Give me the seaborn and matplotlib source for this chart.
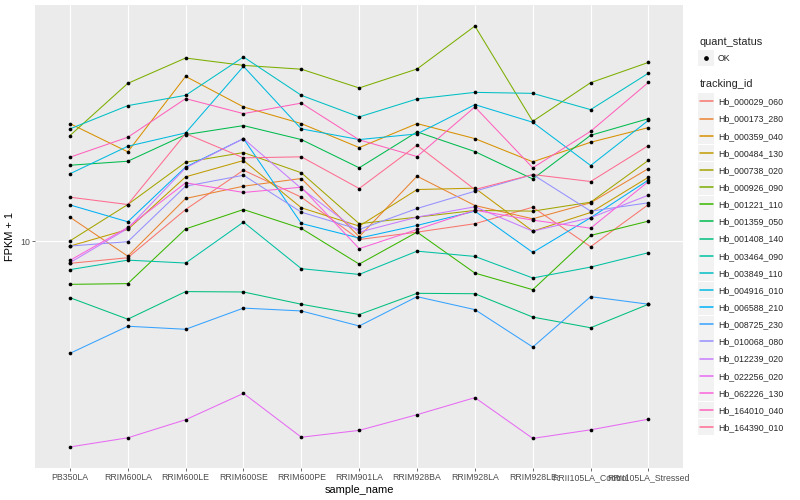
import pandas as pd
import seaborn as sns
import matplotlib.pyplot as plt
from matplotlib.lines import Line2D
from matplotlib.patches import Rectangle
from matplotlib.legend_handler import HandlerLine2D
from matplotlib.ticker import NullLocator

# samples along the x axis
samples = ["PB350LA", "RRIM600LA", "RRIM600LE", "RRIM600SE", "RRIM600PE", "RRIM901LA",
           "RRIM928BA", "RRIM928LA", "RRIM928LE", "RRII105LA_Control", "RRII105LA_Stressed"]

tracking_ids = ["Hb_000029_060", "Hb_000173_280", "Hb_000359_040", "Hb_000484_130",
                "Hb_000738_020", "Hb_000926_090", "Hb_001221_110", "Hb_001359_050",
                "Hb_001408_140", "Hb_003464_090", "Hb_003849_110", "Hb_004916_010",
                "Hb_006588_210", "Hb_008725_230", "Hb_010068_080", "Hb_012239_020",
                "Hb_022256_020", "Hb_062226_130", "Hb_164010_040", "Hb_164390_010"]

# ggplot default hue palette for 20 levels
palette = ["#F8766D", "#EA8331", "#D89000", "#C09B00", "#A3A500", "#7CAE00", "#39B600",
           "#00BB4E", "#00BF7D", "#00C1A3", "#00BFC4", "#00BAE0", "#00B0F6", "#35A2FF",
           "#9590FF", "#C77CFF", "#E76BF3", "#FA62DB", "#FF62BC", "#FF6C91"]

# FPKM + 1 per gene, one value per sample
hb_000029_060 = [8.45, 8.82, 12.78, 17.29, 14.05, 10.15, 10.74, 11.46, 13.01, 9.60, 13.28]
hb_000173_280 = [12.05, 8.93, 13.91, 15.29, 16.22, 10.37, 16.51, 13.18, 11.90, 13.46, 17.51]
hb_000359_040 = [24.74, 19.91, 35.56, 28.12, 24.74, 20.57, 24.74, 22.04, 18.44, 21.43, 23.99]
hb_000484_130 = [9.65, 10.96, 16.43, 18.62, 12.95, 11.25, 14.90, 15.06, 10.82, 12.49, 16.38]
hb_000738_020 = [10.04, 13.28, 18.38, 19.80, 16.95, 11.46, 12.05, 12.69, 12.62, 13.52, 18.66]
hb_000926_090 = [22.56, 33.70, 40.95, 38.70, 37.58, 32.53, 37.64, 52.36, 25.18, 33.88, 39.60]
hb_001221_110 = [7.19, 7.23, 11.01, 12.78, 11.05, 8.40, 10.74, 7.84, 6.90, 10.47, 11.69]
hb_001359_050 = [17.96, 18.52, 22.73, 24.36, 21.88, 17.61, 23.21, 19.95, 16.16, 22.61, 25.70]
hb_001408_140 = [6.49, 5.50, 6.80, 6.78, 6.17, 5.70, 6.71, 6.69, 5.59, 5.15, 6.17]
hb_003464_090 = [8.05, 8.66, 8.47, 11.60, 8.11, 7.76, 9.28, 8.91, 7.55, 8.21, 9.17]
hb_003849_110 = [23.75, 28.40, 30.74, 41.28, 30.74, 26.04, 29.90, 31.45, 31.21, 27.54, 36.45]
hb_004916_010 = [16.82, 20.78, 23.03, 38.40, 23.75, 21.88, 22.85, 28.62, 24.99, 17.92, 25.37]
hb_006588_210 = [13.24, 11.63, 17.71, 22.04, 11.48, 10.26, 11.31, 12.62, 9.19, 12.00, 16.03]
hb_008725_230 = [4.23, 5.21, 5.09, 5.99, 5.86, 5.22, 6.54, 5.92, 4.44, 6.54, 6.17]
hb_010068_080 = [9.65, 9.98, 15.29, 16.63, 12.52, 10.96, 12.88, 14.71, 16.72, 12.62, 13.46]
hb_012239_020 = [8.49, 11.05, 17.61, 22.04, 15.02, 10.74, 12.05, 13.05, 10.82, 12.00, 14.27]
hb_022256_020 = [2.06, 2.21, 2.54, 3.11, 2.22, 2.34, 2.64, 3.01, 2.20, 2.35, 2.55]
hb_062226_130 = [8.64, 11.14, 15.69, 14.57, 15.17, 9.46, 10.96, 12.71, 11.78, 11.07, 15.85]
hb_164010_040 = [19.10, 22.27, 29.97, 26.71, 28.96, 21.83, 19.20, 28.12, 17.61, 23.32, 33.96]
hb_164390_010 = [14.05, 13.28, 22.91, 19.01, 19.16, 15.02, 20.94, 14.90, 16.72, 15.85, 20.89]

series = [hb_000029_060, hb_000173_280, hb_000359_040, hb_000484_130, hb_000738_020,
          hb_000926_090, hb_001221_110, hb_001359_050, hb_001408_140, hb_003464_090,
          hb_003849_110, hb_004916_010, hb_006588_210, hb_008725_230, hb_010068_080,
          hb_012239_020, hb_022256_020, hb_062226_130, hb_164010_040, hb_164390_010]

rows = []
for tid, vals in zip(tracking_ids, series):
    for s, v in zip(samples, vals):
        rows.append({"tracking_id": tid, "sample_name": s, "fpkm": v, "quant_status": "OK"})
df = pd.DataFrame(rows)

sns.set_theme(style="darkgrid", rc={"axes.facecolor": "#EBEBEB", "grid.color": "white",
                                    "axes.edgecolor": "#EBEBEB"})
plt.rcParams["font.family"] = ["Liberation Sans", "DejaVu Sans"]

fig = plt.figure(figsize=(8, 5), dpi=100)
ax = fig.add_axes([0.044, 0.064, 0.81, 0.926])

sns.lineplot(data=df, x="sample_name", y="fpkm", hue="tracking_id", hue_order=tracking_ids,
             palette=palette, estimator=None, sort=False, linewidth=0.75, ax=ax, legend=False)
sns.scatterplot(data=df, x="sample_name", y="fpkm", color="black", s=7, linewidth=0,
                ax=ax, legend=False, zorder=3)

ax.set_yscale("log")
ax.margins(y=0.05)
ax.set_xlim(-0.6, len(samples) - 0.4)
ax.set_yticks([10])
ax.set_yticklabels(["10"])
ax.yaxis.set_minor_locator(NullLocator())
ax.grid(True, which="major", color="white", linewidth=0.8)
for sp in ax.spines.values():
    sp.set_visible(False)
ax.tick_params(axis="both", which="major", length=2.2, width=0.5, color="#333333",
               labelsize=6.3, labelcolor="#4D4D4D", pad=1.5, bottom=True, left=True)
ax.set_xlabel("sample_name", fontsize=7.9, color="black", labelpad=2)
ax.set_ylabel("FPKM + 1", fontsize=7.9, color="black", labelpad=4)


class KeyHandler(HandlerLine2D):
    # ggplot style legend key: grey square behind the glyph
    def create_artists(self, legend, orig_handle, xdescent, ydescent, width, height,
                       fontsize, trans):
        arts = super().create_artists(legend, orig_handle, xdescent, ydescent, width,
                                      height, fontsize, trans)
        side = 12.0
        bg = Rectangle((-xdescent + (width - side) / 2, -ydescent + (height - side) / 2),
                       side, side, facecolor="#F2F2F2", edgecolor="none", transform=trans)
        return [bg] + arts


status_handles = [Line2D([], [], marker="o", color="black", linestyle="none", markersize=2.4)]
leg1 = fig.legend(status_handles, ["OK"], title="quant_status", loc="upper left",
                  bbox_to_anchor=(0.869, 0.935), frameon=False, fontsize=6.3,
                  title_fontsize=7.9, handlelength=1.5, handletextpad=0.62,
                  borderpad=0, labelspacing=0.82, alignment="left",
                  handler_map={Line2D: KeyHandler()})

id_handles = [Line2D([], [], color=c, linewidth=1.1) for c in palette]
leg2 = fig.legend(id_handles, tracking_ids, title="tracking_id", loc="upper left",
                  bbox_to_anchor=(0.869, 0.85), frameon=False, fontsize=6.3,
                  title_fontsize=7.9, handlelength=1.5, handletextpad=0.62,
                  borderpad=0, labelspacing=0.93, alignment="left",
                  handler_map={Line2D: KeyHandler()})

fig.savefig("out.png", dpi=100)
